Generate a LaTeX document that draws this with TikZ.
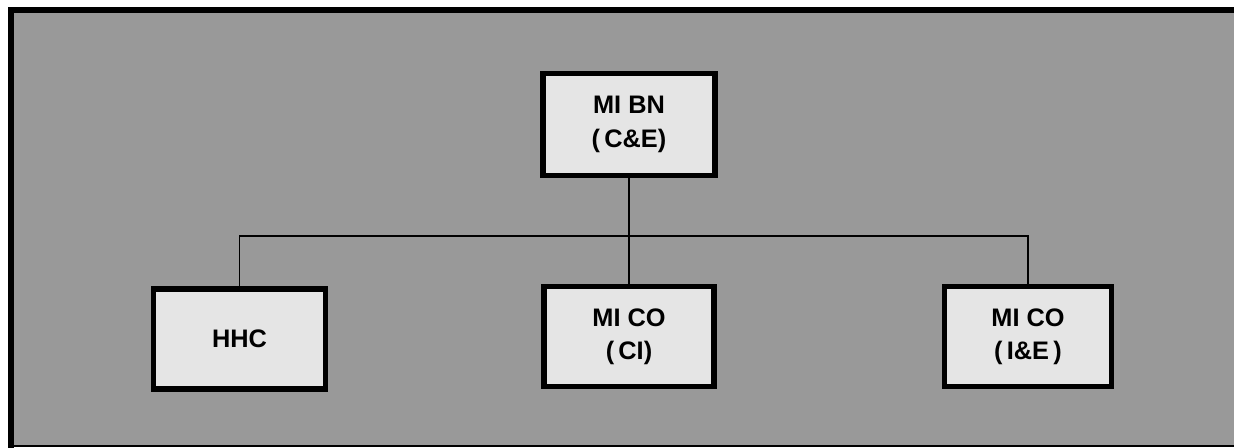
\documentclass[tikz,border=0pt]{standalone}
\usepackage{fontspec}
\setmainfont{Liberation Sans}
\definecolor{bggray}{gray}{0.60}
\definecolor{boxfill}{gray}{0.90}
\tikzset{
  unit/.style={draw=black, line width=3.8pt, fill=boxfill, minimum width=170*0.75pt, minimum height=100*0.75pt,
    inner sep=0pt, align=center, font=\fontsize{19}{25}\selectfont\bfseries},
  link/.style={draw=black, line width=1pt}
}
\begin{document}
\begin{tikzpicture}[x=0.75pt,y=-0.75pt]
\useasboundingbox (0,0) rectangle (1234,448);
\fill[white] (0,0) rectangle (1234,448);
\begin{scope}
\clip (0,0) rectangle (1234,448);
\fill[bggray] (11,10) rectangle (1240,446);
\draw[line width=4.5pt] (11,448) -- (11,10) -- (1240,10);
\draw[line width=1.5pt] (11,446) -- (1240,446);
\end{scope}
\node[unit, minimum width=172*0.75pt, minimum height=102*0.75pt] (bn) at (629,124.5) {MI BN\\(\,C\&E)};
\node[unit, minimum width=172*0.75pt] (hhc) at (239.5,339) {HHC};
\node[unit, minimum width=170*0.75pt] (ci) at (629,336.5) {MI CO\\(\,CI)};
\node[unit, minimum width=167*0.75pt] (ie) at (1028,336.5) {MI CO\\(\,I\&E\,)};
\coordinate (j) at (bn.south |- 0,236);
\draw[link] (bn.south) -- (j);
\draw[link] (hhc.north) |- (j) -| (ie.north);
\draw[link] (j) -- (ci.north);
\end{tikzpicture}
\end{document}
